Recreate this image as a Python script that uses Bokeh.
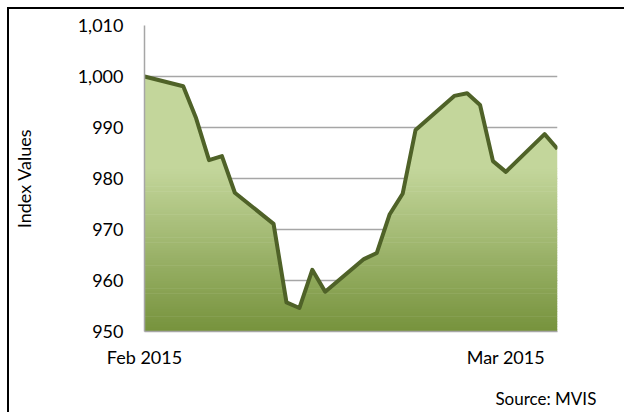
import pandas as pd
from bokeh.plotting import figure
from bokeh.models import Range1d, FixedTicker, NumeralTickFormatter, LinearAxis
from bokeh.embed import file_html
from bokeh.resources import INLINE

# ---- data ----
dates = ["2015-02-01", "2015-02-04", "2015-02-05", "2015-02-06", "2015-02-07", "2015-02-08",
         "2015-02-11", "2015-02-12", "2015-02-13", "2015-02-14", "2015-02-15",
         "2015-02-18", "2015-02-19", "2015-02-20", "2015-02-21", "2015-02-22",
         "2015-02-25", "2015-02-26", "2015-02-27", "2015-02-28", "2015-03-01",
         "2015-03-04", "2015-03-05"]
values = [1000.0, 998.1, 991.8, 983.6, 984.4, 977.2,
          971.1, 955.7, 954.6, 962.1, 957.8,
          964.2, 965.4, 973.0, 977.0, 989.5,
          996.2, 996.7, 994.4, 983.4, 981.3,
          988.7, 985.8]
tick_dates = ["2015-02-01", "2015-03-01"]
tick_labels = ["Feb 2015", "Mar 2015"]
y_ticks = [950, 960, 970, 980, 990, 1000, 1010]
y_min, y_max = 950, 1010
source_text = "Source: MVIS"

origin = pd.Timestamp(dates[0])
x = [(pd.Timestamp(d) - origin).days for d in dates]
tx = [(pd.Timestamp(d) - origin).days for d in tick_dates]

FONT = "Lato"
LIGHT = (195, 214, 155)
DARK = (118, 146, 60)
STOP = 982.0

p = figure(width=617, height=405, output_backend="svg", toolbar_location=None,
           x_range=Range1d(x[0], x[-1]), y_range=Range1d(y_min, y_max),
           min_border_left=134, min_border_right=69, min_border_top=16, min_border_bottom=83)
p.styles = {"margin-left": "7px", "margin-top": "7px",
            "border-left": "2px solid #000000", "border-top": "2px solid #000000"}
p.outline_line_color = None
p.background_fill_color = "white"
p.border_fill_color = "white"

# ---- gradient area built from horizontal bands ----
def clip(poly, y0, keep_above):
    out = []
    n = len(poly)
    for i in range(n):
        cur = poly[i]
        prev = poly[i - 1]
        cin = cur[1] >= y0 if keep_above else cur[1] <= y0
        pin = prev[1] >= y0 if keep_above else prev[1] <= y0
        if cin != pin:
            t = (y0 - prev[1]) / (cur[1] - prev[1])
            out.append((prev[0] + t * (cur[0] - prev[0]), y0))
        if cin:
            out.append(cur)
    return out

area = [(x[0], y_min)] + list(zip(x, values)) + [(x[-1], y_min)]

def col(v):
    if v >= STOP:
        c = LIGHT
    else:
        t = (STOP - v) / (STOP - y_min)
        c = tuple(int(round(LIGHT[k] + t * (DARK[k] - LIGHT[k]))) for k in range(3))
    return "#%02x%02x%02x" % c

xs, ys, cs = [], [], []
step = 0.5
lo = y_min
bands = []
while lo < STOP - 1e-9:
    bands.append((lo, lo + step))
    lo += step
bands.append((STOP, y_max))
for (b0, b1) in bands:
    poly = clip(clip(area, b0 - 0.12 if b0 > y_min else b0, True), b1, False)
    if len(poly) < 3:
        continue
    xs.append([q[0] for q in poly])
    ys.append([q[1] for q in poly])
    cs.append(col((b0 + b1) / 2 if b1 <= STOP else STOP))

p.patches(xs=xs, ys=ys, fill_color=cs, line_color=None)

p.line(x, values, line_color="#4F6228", line_width=4, line_join="round")

# ---- axes ----
p.xgrid.visible = False
p.ygrid.ticker = FixedTicker(ticks=y_ticks)
p.ygrid.grid_line_color = "#A6A6A6"
p.ygrid.grid_line_width = 1.5

p.yaxis.ticker = FixedTicker(ticks=y_ticks)
p.yaxis.formatter = NumeralTickFormatter(format="0,0")
p.xaxis.ticker = FixedTicker(ticks=tx)
p.xaxis.major_label_overrides = {t: lab for t, lab in zip(tx, tick_labels)}

for ax in (p.xaxis[0], p.yaxis[0]):
    ax.axis_line_color = "#A6A6A6"
    ax.axis_line_width = 1.5
    ax.major_tick_line_color = None
    ax.minor_tick_line_color = None
    ax.major_tick_out = 0
    ax.major_tick_in = 0
    ax.major_label_text_font = FONT
    ax.major_label_text_font_size = "18px"
    ax.major_label_text_color = "#000000"

p.yaxis.major_label_standoff = 21
p.xaxis.major_label_standoff = 14
p.yaxis.axis_label = "Index Values"
p.yaxis.axis_label_text_font = FONT
p.yaxis.axis_label_text_font_size = "18px"
p.yaxis.axis_label_text_font_style = "normal"
p.yaxis.axis_label_text_color = "#000000"
p.yaxis.axis_label_standoff = 40

# source note, set as a label-only axis under the date axis
src_pos = x[-1] - 0.9
src_axis = LinearAxis(ticker=FixedTicker(ticks=[src_pos]),
                      major_label_overrides={src_pos: source_text},
                      axis_line_color=None, major_tick_line_color=None,
                      minor_tick_line_color=None, major_tick_out=0, major_tick_in=0,
                      major_label_standoff=17, major_label_text_font=FONT,
                      major_label_text_font_size="17px", major_label_text_color="#000000")
p.add_layout(src_axis, "below")

open("out.html", "w").write(file_html(p, INLINE))
